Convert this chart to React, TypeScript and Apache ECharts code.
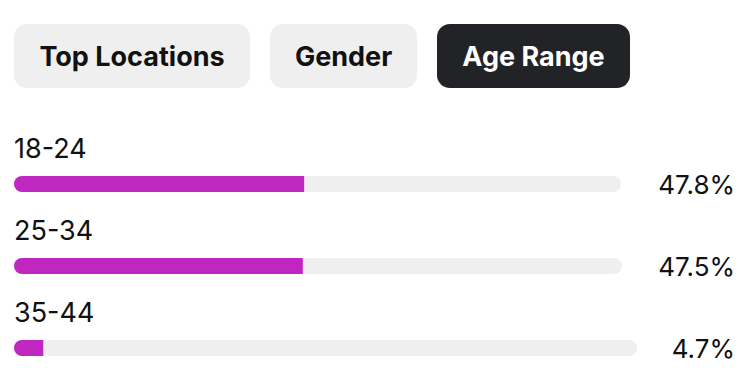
import React, { useEffect, useRef } from "react";
import * as echarts from "echarts";

const tabs = ["Top Locations", "Gender", "Age Range"];
const activeTab = "Age Range";
const ageRanges = ["18-24", "25-34", "35-44"];
const shares = [47.8, 47.5, 4.7];

const FONT = "Inter, 'Noto Sans', sans-serif";
const PURPLE = "#c026c0";
const TRACK = "#efefef";
const DARK = "#222327";

export default function App() {
  const ref = useRef<HTMLDivElement>(null);
  useEffect(() => {
    if (!ref.current) return;
    const chart = echarts.init(ref.current, undefined, { renderer: "svg" });
    const W = 754;
    const pctSize = 26;
    const labelSize = 27;
    const rowTops = [176, 258, 340];
    const trackEnds = [621, 622, 637];
    const pctRight = 735;

    const grids: any[] = [];
    const xAxes: any[] = [];
    const yAxes: any[] = [];
    const series: any[] = [];
    shares.forEach((v, i) => {
      const txt = v.toFixed(1) + "%";
      grids.push({ left: 14, right: W - trackEnds[i], top: rowTops[i], height: 16 });
      xAxes.push({ gridIndex: i, type: "value", min: 0, max: 100, show: false });
      yAxes.push({
        gridIndex: i,
        type: "category",
        data: [txt],
        position: "right",
        axisLine: { show: false },
        axisTick: { show: false },
        splitLine: { show: false },
        axisLabel: {
          margin: pctRight - trackEnds[i],
          align: "right",
          color: "#111",
          fontSize: pctSize,
          fontFamily: FONT,
        },
      });
      series.push({
        type: "bar",
        xAxisIndex: i,
        yAxisIndex: i,
        data: [v],
        barWidth: 16,
        showBackground: true,
        backgroundStyle: { color: TRACK, borderRadius: 8 },
        itemStyle: { color: PURPLE, borderRadius: [8, 0, 0, 8] },
        label: {
          show: true,
          formatter: () => ageRanges[i],
          position: [0, -28],
          align: "left",
          verticalAlign: "middle",
          color: "#111",
          fontSize: labelSize,
          fontFamily: FONT,
        },
      });
    });

    const btnRects = [
      [14, 250],
      [270, 417],
      [437, 630],
    ];
    const graphics: any[] = tabs.map((t, i) => {
      const active = t === activeTab;
      const [x0, x1] = btnRects[i];
      return {
        type: "group",
        children: [
          {
            type: "rect",
            shape: { x: x0, y: 24, width: x1 - x0, height: 64, r: 13 },
            style: { fill: active ? DARK : TRACK },
          },
          {
            type: "text",
            x: (x0 + x1) / 2,
            y: 56,
            style: {
              text: t,
              fill: active ? "#ffffff" : "#111111",
              font: `700 27px ${FONT}`,
              align: "center",
              verticalAlign: "middle",
            },
          },
        ],
      };
    });

    chart.setOption({
      animation: false,
      grid: grids,
      xAxis: xAxes,
      yAxis: yAxes,
      series,
      graphic: graphics,
    });
    return () => chart.dispose();
  }, []);
  return <div ref={ref} style={{ width: 754, height: 390, position: "absolute", left: 0, top: 0 }} />;
}
